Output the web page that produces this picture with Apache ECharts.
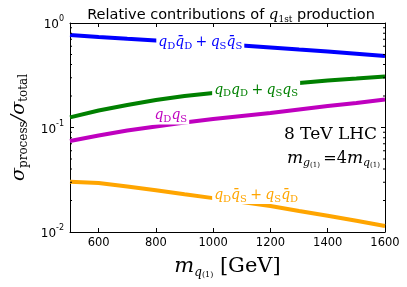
<!DOCTYPE html>
<html><head><meta charset="utf-8">
<script src="https://cdn.jsdelivr.net/npm/echarts@6/dist/echarts.min.js"></script>
<style>html,body{margin:0;padding:0;background:#fff}#c{width:407px;height:287px}</style>
</head><body><div id="c"></div>
<script>
// ---- data ----
const masses = [500, 600, 700, 800, 900, 1000, 1100, 1200, 1300, 1400, 1500, 1600];
const qDqDbar_qSqSbar = [0.768, 0.735, 0.706, 0.680, 0.655, 0.631, 0.609, 0.583, 0.557, 0.533, 0.509, 0.483];
const qDqD_qSqS = [0.125, 0.1455, 0.164, 0.183, 0.200, 0.214, 0.228, 0.247, 0.267, 0.282, 0.294, 0.308];
const qDqS = [0.0743, 0.0838, 0.0936, 0.1022, 0.1116, 0.1206, 0.1288, 0.1376, 0.1487, 0.1606, 0.1716, 0.1854];
const qDqSbar_qSqDbar = [0.0303, 0.0295, 0.0273, 0.0251, 0.0230, 0.0211, 0.0194, 0.0177, 0.0159, 0.0143, 0.0128, 0.0114];
const xTickLabels = [600, 800, 1000, 1200, 1400, 1600];
const yMinorTicks = [0.02,0.03,0.04,0.05,0.06,0.07,0.08,0.09,0.2,0.3,0.4,0.5,0.6,0.7,0.8,0.9];

const seriesNames = ['qDqDbar+qSqSbar','qDqD+qSqS','qDqS','qDqSbar+qSqDbar'];
const seriesData = [qDqDbar_qSqSbar, qDqD_qSqS, qDqS, qDqSbar_qSqDbar];
const colors = ['#0000ff', '#008000', '#bf00bf', '#ffa500'];
const labelTexts = [
  '{i|q}{s|D}{i|q̄}{s|D} {p|+} {i|q}{s|S}{i|q̄}{s|S}',
  '{i|q}{s|D}{i|q}{s|D} {p|+} {i|q}{s|S}{i|q}{s|S}',
  '{i|q}{s|D}{i|q}{s|S}',
  '{i|q}{s|D}{i|q̄}{s|S} {p|+} {i|q}{s|S}{i|q̄}{s|D}'
];
// label anchors in data units
const labelAnchors = [[955, 0.655], [1150, 0.229], [852, 0.130], [1150, 0.0226]];

const SERIF = 'DejaVu Serif';
function mathRich(color) {
  return {
    i: {fontFamily: SERIF, fontStyle: 'italic', fontSize: 14, lineHeight: 18, color: color, verticalAlign: 'middle'},
    s: {fontFamily: SERIF, fontSize: 10, lineHeight: 12, color: color, verticalAlign: 'bottom'},
    p: {fontFamily: SERIF, fontSize: 14, lineHeight: 18, color: color, verticalAlign: 'middle'}
  };
}

const chart = echarts.init(document.getElementById('c'), null, {renderer: 'canvas'});

const lineSeries = seriesData.map((arr, k) => ({
  name: seriesNames[k],
  type: 'line',
  data: masses.map((m, j) => [m, arr[j]]),
  showSymbol: false,
  symbol: 'none',
  lineStyle: {color: colors[k], width: 4},
  z: 2,
  animation: false
}));

const labelSeries = {
  type: 'scatter',
  symbolSize: 0,
  z: 5,
  animation: false,
  silent: true,
  itemStyle: {opacity: 1},
  emphasis: {disabled: true},
  data: labelAnchors.map((p, k) => ({
    value: p,
    label: {
      show: true, position: 'inside',
      formatter: labelTexts[k],
      backgroundColor: '#fff',
      opacity: 1,
      padding: [0, 2],
      rich: mathRich(colors[k])
    }
  }))
};

const minorLeft = {
  type: 'scatter', symbol: 'rect', symbolSize: [2, 1], symbolOffset: [1, 0],
  itemStyle: {color: '#000', opacity: 1}, clip: false, silent: true, animation: false, z: 6,
  data: yMinorTicks.map(v => [500, v])
};
const minorRight = {
  type: 'scatter', symbol: 'rect', symbolSize: [2, 1], symbolOffset: [-1, 0],
  itemStyle: {color: '#000', opacity: 1}, clip: false, silent: true, animation: false, z: 6,
  data: yMinorTicks.map(v => [1600, v])
};

const axisLineStyle = {show: true, lineStyle: {color: '#000', width: 1}};
const option = {
  backgroundColor: '#fff',
  animation: false,
  title: {
    text: 'Relative contributions of {i|q}{s|1st} production',
    left: 226, top: 1, textAlign: 'center',
    textStyle: {
      fontFamily: 'DejaVu Sans', fontSize: 14.5, fontWeight: 'normal', color: '#000',
      rich: {
        i: {fontFamily: SERIF, fontStyle: 'italic', fontSize: 15, lineHeight: 18, verticalAlign: 'middle', color: '#000'},
        s: {fontFamily: SERIF, fontSize: 9, lineHeight: 10, verticalAlign: 'bottom', color: '#000'}
      }
    }
  },
  grid: {left: 70, right: 22, top: 23, bottom: 55, containLabel: false},
  xAxis: [{
    type: 'value', min: 500, max: 1600, position: 'bottom',
    axisLine: axisLineStyle,
    splitLine: {show: false},
    axisTick: {show: true, inside: true, length: 4, customValues: xTickLabels, lineStyle: {color: '#000'}},
    axisLabel: {show: true, customValues: xTickLabels, formatter: v => String(v), fontFamily: 'DejaVu Sans', fontSize: 11.5, color: '#000', margin: 5},
    name: '{m|m}{q|q}{u|(1)}  {t|[GeV]}',
    nameLocation: 'middle', nameGap: 23,
    nameTextStyle: {
      rich: {
        m: {fontFamily: SERIF, fontStyle: 'italic', fontSize: 21, lineHeight: 24, verticalAlign: 'middle', color: '#000'},
        q: {fontFamily: SERIF, fontStyle: 'italic', fontSize: 12, lineHeight: 13, verticalAlign: 'bottom', color: '#000'},
        u: {fontFamily: SERIF, fontSize: 8, lineHeight: 18, verticalAlign: 'bottom', color: '#000'},
        t: {fontFamily: SERIF, fontSize: 21, lineHeight: 24, verticalAlign: 'middle', color: '#000'}
      }
    }
  }, {
    type: 'value', min: 500, max: 1600, position: 'top',
    axisLine: axisLineStyle, splitLine: {show: false},
    axisTick: {show: true, inside: true, length: 4, customValues: xTickLabels, lineStyle: {color: '#000'}},
    axisLabel: {show: false}
  }],
  yAxis: [{
    type: 'log', logBase: 10, min: 0.01, max: 1, position: 'left',
    axisLine: axisLineStyle, splitLine: {show: false},
    axisTick: {show: true, inside: true, length: 4, lineStyle: {color: '#000'}},
    axisLabel: {
      show: true, margin: 6,
      formatter: v => '{b|10}{e|' + Math.round(Math.log10(v)) + '}',
      rich: {
        b: {fontFamily: 'DejaVu Sans', fontSize: 12, lineHeight: 16, verticalAlign: 'bottom', color: '#000'},
        e: {fontFamily: 'DejaVu Sans', fontSize: 8, lineHeight: 16, verticalAlign: 'top', color: '#000'}
      }
    },
    name: '{g|σ}{s|process}{g|/σ}{s|total}',
    nameLocation: 'middle', nameGap: 38, nameRotate: 90,
    nameTextStyle: {
      rich: {
        g: {fontFamily: SERIF, fontStyle: 'italic', fontSize: 19, lineHeight: 22, verticalAlign: 'middle', color: '#000'},
        s: {fontFamily: SERIF, fontSize: 12, lineHeight: 14, verticalAlign: 'bottom', color: '#000'}
      }
    }
  }, {
    type: 'log', logBase: 10, min: 0.01, max: 1, position: 'right',
    axisLine: axisLineStyle, splitLine: {show: false},
    axisTick: {show: true, inside: true, length: 4, lineStyle: {color: '#000'}},
    axisLabel: {show: false}
  }],
  graphic: [{
    type: 'text', right: 30, top: 126, z: 10,
    style: {text: '8 TeV LHC', font: '17px "DejaVu Serif"', fill: '#000'}
  }, {
    type: 'text', right: 27, top: 150, z: 10,
    style: {
      text: '{m|m}{g|g}{u|(1)} {p|=4}{m|m}{g|q}{u|(1)}',
      rich: {
        m: {fontFamily: SERIF, fontStyle: 'italic', fontSize: 17, lineHeight: 20, verticalAlign: 'middle', fill: '#000', color: '#000'},
        g: {fontFamily: SERIF, fontStyle: 'italic', fontSize: 11, lineHeight: 12, verticalAlign: 'bottom', fill: '#000', color: '#000'},
        u: {fontFamily: SERIF, fontSize: 7, lineHeight: 16, verticalAlign: 'bottom', fill: '#000', color: '#000'},
        p: {fontFamily: SERIF, fontSize: 16, lineHeight: 20, verticalAlign: 'middle', fill: '#000', color: '#000'}
      }
    }
  }],
  series: [...lineSeries, labelSeries, minorLeft, minorRight]
};
chart.setOption(option);
</script></body></html>
